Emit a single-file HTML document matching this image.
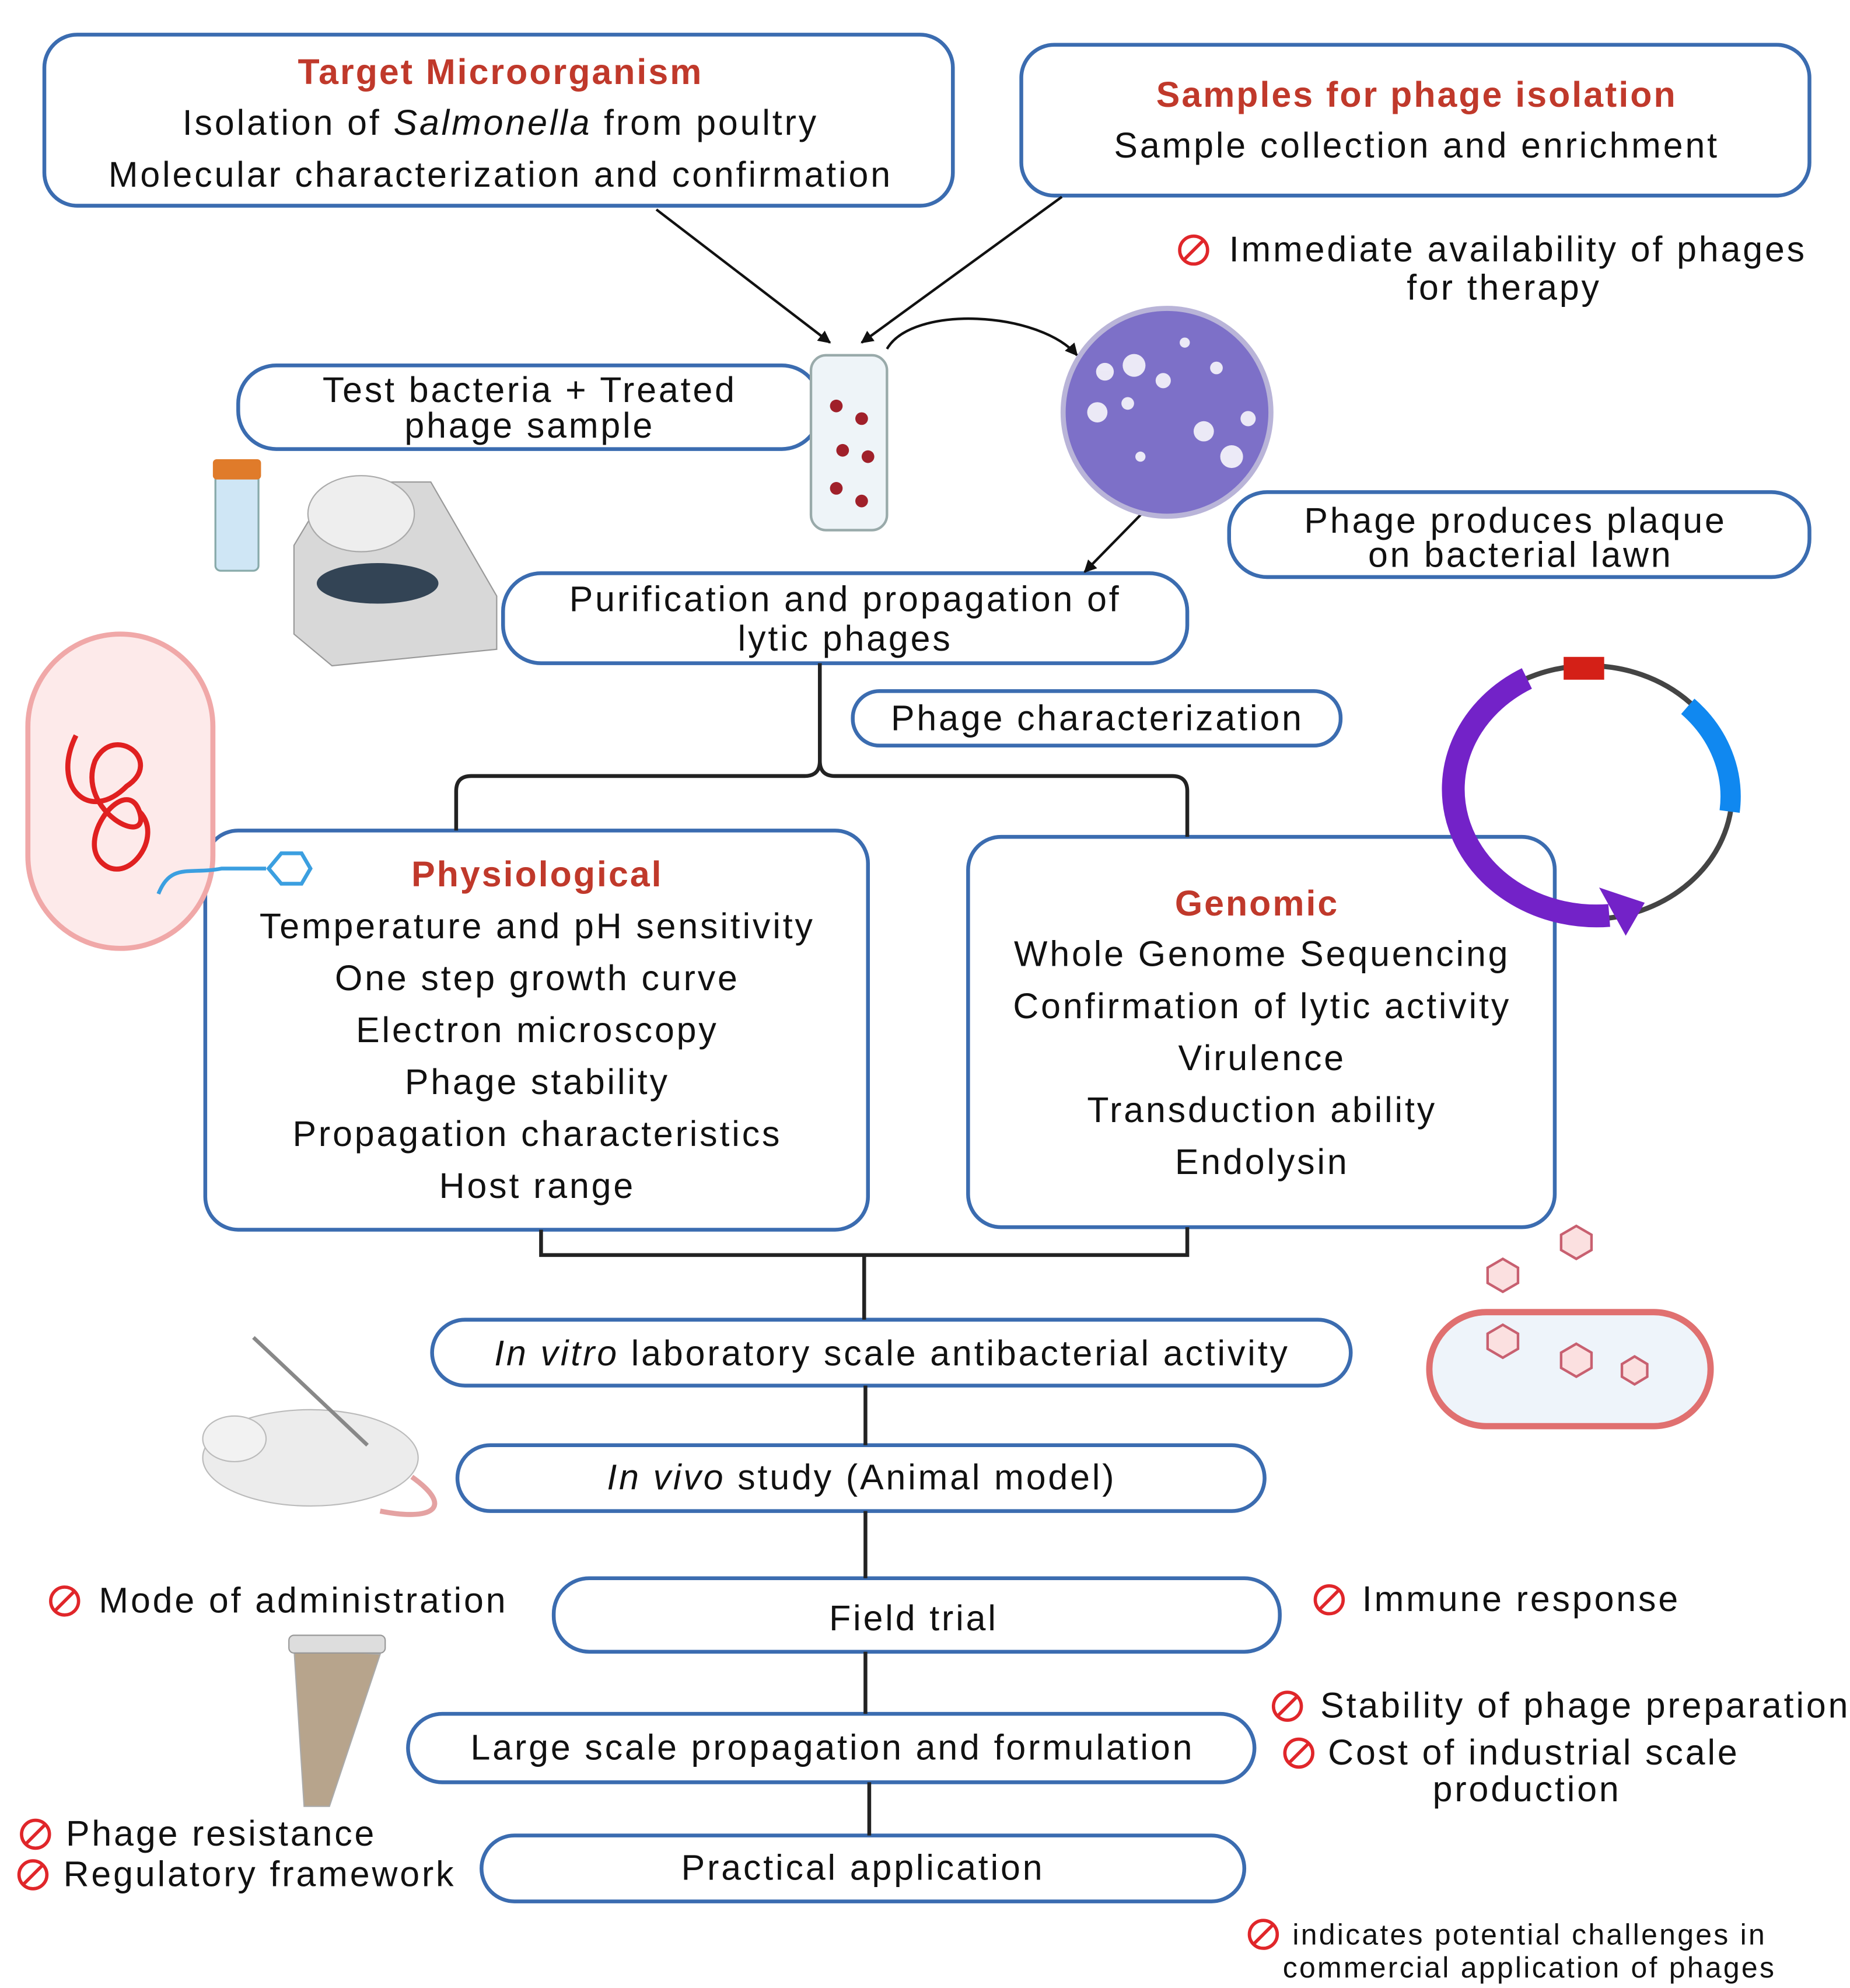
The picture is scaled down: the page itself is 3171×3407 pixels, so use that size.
<!DOCTYPE html>
<html><head><meta charset="utf-8"><style>
html,body{margin:0;padding:0;background:#fff}
svg{display:block}
text{font-family:"Liberation Sans",sans-serif;fill:#111;font-size:28px;letter-spacing:1.8px}
.t{fill:#c0392b;font-weight:bold;letter-spacing:1.4px}
.s{font-size:23px;letter-spacing:1.5px}
</style></head><body>
<svg width="3171" height="3407" viewBox="0 0 1460 1568" xmlns="http://www.w3.org/2000/svg">
<defs>
<marker id="ah" markerWidth="10" markerHeight="10" refX="9" refY="5" orient="auto" markerUnits="userSpaceOnUse"><path d="M0,0 L10,5 L0,10 Z" fill="#111"/></marker>
<g id="no"><circle cx="0" cy="0" r="11" fill="none" stroke="#e0262a" stroke-width="2.6"/><line x1="-8" y1="8" x2="8" y2="-8" stroke="#e0262a" stroke-width="2.6"/></g>
</defs>
<g fill="none" stroke="#3b6cb0" stroke-width="3">
<rect x="35" y="27" width="717" height="135" rx="26"/>
<rect x="806" y="35" width="622" height="119" rx="26"/>
<rect x="188" y="288" width="459" height="66" rx="30"/>
<rect x="970" y="388" width="458" height="67" rx="30"/>
<rect x="397" y="452" width="540" height="71" rx="30"/>
<rect x="673" y="545" width="385" height="43" rx="21"/>
<rect x="162" y="655" width="523" height="315" rx="26"/>
<rect x="764" y="660" width="463" height="308" rx="26"/>
<rect x="341" y="1041" width="725" height="52" rx="26"/>
<rect x="361" y="1140" width="637" height="52" rx="26"/>
<rect x="437" y="1245" width="573" height="58" rx="28"/>
<rect x="322" y="1352" width="668" height="54" rx="27"/>
<rect x="380" y="1448" width="602" height="52" rx="26"/>
</g>
<g stroke="#111" stroke-width="2" fill="none">
<line x1="518" y1="165" x2="655" y2="270" marker-end="url(#ah)"/>
<line x1="838" y1="155" x2="680" y2="270" marker-end="url(#ah)"/>
<path d="M700,275 C720,240 820,245 850,280" marker-end="url(#ah)"/>
<line x1="950" y1="355" x2="856" y2="451" marker-end="url(#ah)"/>
</g>
<g stroke="#222" stroke-width="3" fill="none">
<path d="M647,523 V600 Q647,612 635,612 H372 Q360,612 360,624 V655"/>
<path d="M647,600 Q647,612 659,612 H925 Q937,612 937,624 V660"/>
<path d="M427,970 V990 H937 V968"/>
<line x1="682" y1="990" x2="682" y2="1041"/>
<line x1="683" y1="1093" x2="683" y2="1140"/>
<line x1="683" y1="1192" x2="683" y2="1245"/>
<line x1="683" y1="1303" x2="683" y2="1352"/>
<line x1="686" y1="1406" x2="686" y2="1448"/>
</g>
<circle cx="921" cy="325" r="82" fill="#7d70c8" stroke="#b9b4d8" stroke-width="4"/>
<g fill="#fff" opacity="0.85">
<circle cx="872" cy="293" r="7"/><circle cx="895" cy="288" r="9"/><circle cx="918" cy="300" r="6"/><circle cx="866" cy="325" r="8"/><circle cx="950" cy="340" r="8"/><circle cx="972" cy="360" r="9"/><circle cx="985" cy="330" r="6"/><circle cx="935" cy="270" r="4"/><circle cx="960" cy="290" r="5"/><circle cx="900" cy="360" r="4"/><circle cx="890" cy="318" r="5"/>
</g>
<rect x="640" y="280" width="60" height="138" rx="12" fill="#eef4f8" stroke="#9aa" stroke-width="2"/>
<g fill="#a0202a"><circle cx="660" cy="320" r="5"/><circle cx="680" cy="330" r="5"/><circle cx="665" cy="355" r="5"/><circle cx="685" cy="360" r="5"/><circle cx="660" cy="385" r="5"/><circle cx="680" cy="395" r="5"/></g>
<rect x="170" y="372" width="34" height="78" rx="4" fill="#cfe6f5" stroke="#8aa" stroke-width="1.5"/>
<rect x="168" y="362" width="38" height="16" rx="3" fill="#e07b2a"/>
<path d="M232,430 L262,380 H340 L392,470 V512 L262,525 L232,500 Z" fill="#d8d8d8" stroke="#999"/>
<ellipse cx="298" cy="460" rx="48" ry="16" fill="#345"/>
<ellipse cx="285" cy="405" rx="42" ry="30" fill="#eee" stroke="#aaa"/>
<rect x="22" y="500" width="146" height="248" rx="73" fill="#fdeaea" stroke="#f0a8a8" stroke-width="4"/>
<path d="M60,580 C40,620 70,650 100,620 C130,600 90,570 75,600 C60,640 120,670 110,640 C100,610 60,660 80,680 C100,700 130,660 110,640" fill="none" stroke="#e02020" stroke-width="4"/>
<path d="M125,705 C135,680 150,690 175,685 L210,685" stroke="#3b9fe0" stroke-width="3" fill="none"/>
<polygon points="212,685 222,673 238,673 245,685 238,697 222,697" fill="#fff" stroke="#3b9fe0" stroke-width="3"/>
<ellipse cx="1254" cy="625" rx="113" ry="100" fill="none" stroke="#444" stroke-width="4"/>
<path d="M1205,535 A113,100 0 0 0 1270,722" fill="none" stroke="#7322c8" stroke-width="18"/>
<polygon points="1262,700 1298,712 1283,738" fill="#7322c8"/>
<path d="M1332,557 A113,100 0 0 1 1365,640" fill="none" stroke="#1088f0" stroke-width="16"/>
<rect x="1234" y="518" width="32" height="18" fill="#d42017"/>
<ellipse cx="245" cy="1150" rx="85" ry="38" fill="#ececec" stroke="#bbb"/>
<ellipse cx="185" cy="1135" rx="25" ry="18" fill="#f2f2f2" stroke="#bbb"/>
<path d="M325,1165 C360,1190 340,1200 300,1192" fill="none" stroke="#e4a2a2" stroke-width="4"/>
<line x1="200" y1="1055" x2="290" y2="1140" stroke="#888" stroke-width="3"/>
<path d="M232,1300 L300,1305 L260,1425 L240,1425 Z" fill="#b7a48c" stroke="#aaa"/>
<rect x="228" y="1290" width="76" height="14" rx="4" fill="#ddd" stroke="#999"/>
<rect x="1128" y="1035" width="222" height="90" rx="45" fill="#eef4fa" stroke="#e07070" stroke-width="5"/>
<g fill="#fbe0e0" stroke="#c86070" stroke-width="2">
<polygon points="1186,993 1198,1000 1198,1012 1186,1019 1174,1012 1174,1000"/>
<polygon points="1244,967 1256,974 1256,986 1244,993 1232,986 1232,974"/>
<polygon points="1186,1045 1198,1052 1198,1064 1186,1071 1174,1064 1174,1052"/>
<polygon points="1244,1060 1256,1067 1256,1079 1244,1086 1232,1079 1232,1067"/>
<polygon points="1290,1070 1300,1076 1300,1086 1290,1092 1280,1086 1280,1076"/>
</g>
<g text-anchor="middle">
<text class="t" x="395" y="66">Target Microorganism</text>
<text x="395" y="106">Isolation of <tspan font-style="italic">Salmonella</tspan> from poultry</text>
<text x="395" y="147">Molecular characterization and confirmation</text>
<text class="t" x="1118" y="84">Samples for phage isolation</text>
<text x="1118" y="124">Sample collection and enrichment</text>
<text x="1187" y="236">for therapy</text>
<text x="418" y="317">Test bacteria + Treated</text>
<text x="418" y="345">phage sample</text>
<text x="1196" y="420">Phage produces plaque</text>
<text x="1200" y="447">on bacterial lawn</text>
<text x="667" y="482">Purification and propagation of</text>
<text x="667" y="513">lytic phages</text>
<text x="866" y="576">Phage characterization</text>
<text class="t" x="424" y="699">Physiological</text>
<text x="424" y="740">Temperature and pH sensitivity</text>
<text x="424" y="781">One step growth curve</text>
<text x="424" y="822">Electron microscopy</text>
<text x="424" y="863">Phage stability</text>
<text x="424" y="904">Propagation characteristics</text>
<text x="424" y="945">Host range</text>
<text class="t" x="992" y="722">Genomic</text>
<text x="996" y="762">Whole Genome Sequencing</text>
<text x="996" y="803">Confirmation of lytic activity</text>
<text x="996" y="844">Virulence</text>
<text x="996" y="885">Transduction ability</text>
<text x="996" y="926">Endolysin</text>
<text x="704" y="1077"><tspan font-style="italic">In vitro</tspan> laboratory scale antibacterial activity</text>
<text x="680" y="1175"><tspan font-style="italic">In vivo</tspan> study (Animal model)</text>
<text x="721" y="1286">Field trial</text>
<text x="657" y="1388">Large scale propagation and formulation</text>
<text x="681" y="1483">Practical application</text>
<text x="1205" y="1421">production</text>
<text class="s" x="1207" y="1560">commercial application of phages</text>
</g>
<use href="#no" x="942" y="197"/><text x="970" y="206">Immediate availability of phages</text>
<use href="#no" x="51" y="1263"/><text x="78" y="1272">Mode of administration</text>
<use href="#no" x="1049" y="1262"/><text x="1075" y="1271">Immune response</text>
<use href="#no" x="1016" y="1346"/><text x="1042" y="1355">Stability of phage preparation</text>
<use href="#no" x="1025" y="1383"/><text x="1048" y="1392">Cost of industrial scale</text>
<use href="#no" x="28" y="1447"/><text x="52" y="1456">Phage resistance</text>
<use href="#no" x="26" y="1479"/><text x="50" y="1488">Regulatory framework</text>
<use href="#no" x="997" y="1526"/><text class="s" x="1020" y="1534">indicates potential challenges in</text>
</svg>
</body></html>
